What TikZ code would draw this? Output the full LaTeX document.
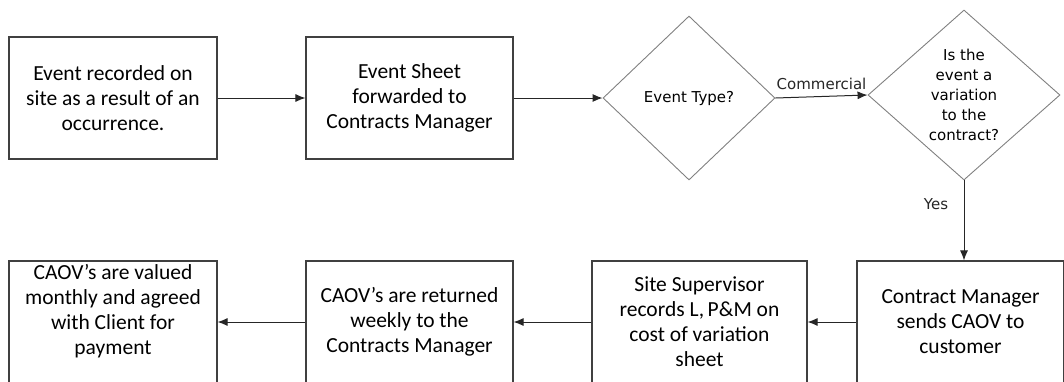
\documentclass[tikz,border=0pt]{standalone}
\usepackage{fontspec}
\setmainfont{Carlito}
\newfontfamily\diafont{DejaVu Sans}
\usetikzlibrary{arrows.meta}
\usetikzlibrary{shapes.geometric}

\begin{document}
\begin{tikzpicture}[x=1pt,y=-1pt,
    stepbox/.style={draw=black!75,line width=1.1pt,minimum width=208pt,minimum height=122pt,
      inner sep=0pt,align=center,font=\fontsize{21.5}{25}\selectfont},
    decision/.style={diamond,draw=black!50,line width=0.9pt,inner sep=0pt,align=center,
      font=\diafont\fontsize{15}{20.2}\selectfont},
    flow/.style={-{Latex[length=10pt,width=8pt]},line width=1pt,black!85},
    lbl/.style={font=\diafont\fontsize{15}{16}\selectfont}]
  % Define the rows
  \def\top{98}
  \def\bot{322}

  \useasboundingbox (0,0) rectangle (1064,381);

  % Draw the top row
  \node[stepbox] (rec) at (113,\top) {Event recorded on\\site as a result of an\\occurrence.};
  \node[stepbox,minimum width=207pt] (fwd) at (409.5,\top) {Event Sheet\\forwarded to\\Contracts Manager};
  \node[decision,minimum width=172pt,minimum height=164pt] (type) at (689,\top) {Event Type?};
  \node[decision,minimum width=192pt,minimum height=170pt] (var) at (964,95) {Is the\\event a\\variation\\to the\\contract?};

  % Draw the bottom row
  \node[stepbox,minimum width=207pt] (caov) at (960.5,\bot) {Contract Manager\\sends CAOV to\\customer};
  \node[stepbox,minimum width=215pt] (sup) at (699.5,\bot) {Site Supervisor\\records L,\,P\&M on\\cost of variation\\sheet};
  \node[stepbox,minimum width=207pt] (ret) at (409.5,\bot) {CAOV’s are returned\\weekly to the\\Contracts Manager};
  \node[stepbox] (val) at (113,\bot) {CAOV’s are valued\\monthly and agreed\\with Client for\\payment\\\mbox{}};

  % Connect the steps
  \draw[flow] (rec) -- (fwd);
  \draw[flow] (fwd) -- (type);
  \draw[flow] (type.east) -- node[lbl,above=3pt,pos=0.5] {Commercial} (var.west);
  \draw[flow] (var.south) -- node[lbl,left=12pt,pos=0.3] {Yes} (var.south |- caov.north);
  \draw[flow] (caov) -- (sup);
  \draw[flow] (sup) -- (ret);
  \draw[flow] (ret) -- (val);
\end{tikzpicture}
\end{document}
